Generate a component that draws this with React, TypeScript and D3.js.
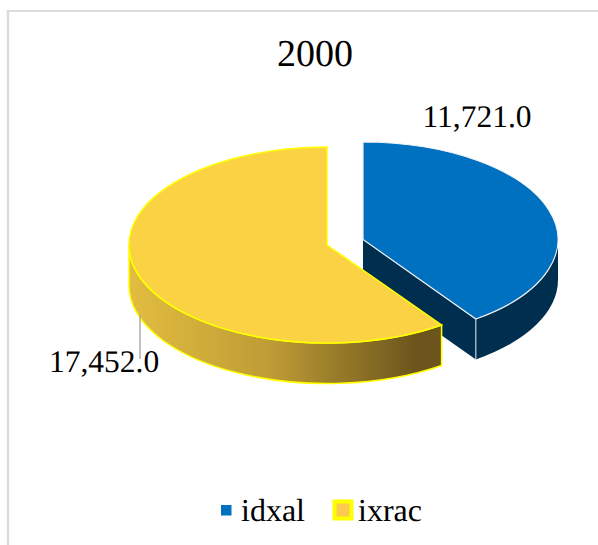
import React from 'react';
import * as d3 from 'd3';

const categories = ['idxal', 'ixrac'];
const values = [11721.0, 17452.0];
const labels = ['11,721.0', '17,452.0'];
const title = '2000';

const width = 598;
const height = 545;
const serif = '"Liberation Serif", "Times New Roman", serif';

// slice angles from d3.pie, clockwise from 12 o'clock
const slices = d3.pie<number>().sort(null)(values);

type Ell = { cx: number; cy: number; rx: number; ry: number };
const blueEll: Ell = { cx: 363, cy: 239.5, rx: 195, ry: 97.5 };
const yellowEll: Ell = { cx: 327, cy: 245, rx: 198, ry: 98 };
const depth = 40.5;

const pt = (e: Ell, a: number, dy = 0): [number, number] => [
  e.cx + e.rx * Math.sin(a),
  e.cy - e.ry * Math.cos(a) + dy,
];

// big flag for an svg arc going clockwise from a0 to a1
const arcTo = (e: Ell, a0: number, a1: number, dy = 0) => {
  const [x, y] = pt(e, a1, dy);
  return `A${e.rx},${e.ry} 0 ${a1 - a0 > Math.PI ? 1 : 0} 1 ${x},${y}`;
};
const arcBack = (e: Ell, a0: number, a1: number, dy = 0) => {
  const [x, y] = pt(e, a0, dy);
  return `A${e.rx},${e.ry} 0 ${a1 - a0 > Math.PI ? 1 : 0} 0 ${x},${y}`;
};

const topPath = (e: Ell, a0: number, a1: number) => {
  const [sx, sy] = pt(e, a0);
  return `M${e.cx},${e.cy}L${sx},${sy}${arcTo(e, a0, a1)}Z`;
};

// outer rim between two angles
const wallPath = (e: Ell, a0: number, a1: number) => {
  const [sx, sy] = pt(e, a0);
  const [bx, by] = pt(e, a1, depth);
  return `M${sx},${sy}${arcTo(e, a0, a1)}L${bx},${by}${arcBack(e, a0, a1, depth)}Z`;
};

// flat cut face from the centre out to the slice edge
const cutPath = (e: Ell, a: number) => {
  const [x, y] = pt(e, a);
  return `M${e.cx},${e.cy}L${x},${y}L${x},${y + depth}L${e.cx},${e.cy + depth}Z`;
};

export default function App() {
  const blue = slices[0];
  const yellow = slices[1];
  const [blueTipX, blueTipY] = pt(blueEll, blue.endAngle);
  const [yTipX] = pt(yellowEll, yellow.startAngle);

  return (
    <svg
      width={width}
      height={height}
      style={{ position: 'absolute', left: 0, top: 0 }}
      fontFamily={serif}
      textRendering="geometricPrecision"
    >
      <defs>
        <linearGradient id="rim" gradientUnits="userSpaceOnUse" x1={yellowEll.cx - yellowEll.rx} x2={yTipX} y1={0} y2={0}>
          <stop offset="0" stopColor="#e2bd40" />
          <stop offset="0.45" stopColor="#bf9c35" />
          <stop offset="0.92" stopColor="#6b551c" />
          <stop offset="1" stopColor="#6b551c" />
        </linearGradient>
      </defs>

      {/* chart frame, only top and left survive in the crop */}
      <line x1={8} y1={11} x2={width} y2={11} stroke="#dcdcdc" strokeWidth={2} />
      <line x1={8} y1={10} x2={8} y2={height} stroke="#dcdcdc" strokeWidth={2.5} />

      <text x={315} y={65.5} fontSize={38} textAnchor="middle" fill="#000">{title}</text>

      {/* blue slice */}
      <path d={cutPath(blueEll, blue.endAngle)} fill="#002e4f" />
      <path d={wallPath(blueEll, Math.PI / 2, blue.endAngle)} fill="#002e4f" />
      <line x1={blueTipX} y1={blueTipY} x2={blueTipX} y2={blueTipY + depth} stroke="#e6ecf2" strokeWidth={1} />
      <path d={topPath(blueEll, blue.startAngle, blue.endAngle)} fill="#0070c0" stroke="#f2f2f2" strokeWidth={1.2} />

      {/* yellow slice */}
      <path d={wallPath(yellowEll, yellow.startAngle, (3 * Math.PI) / 2)} fill="url(#rim)" stroke="#ffff00" strokeWidth={1.5} />
      <path d={topPath(yellowEll, yellow.startAngle, yellow.endAngle)} fill="#fad244" stroke="#ffff00" strokeWidth={1.5} />

      {/* data labels */}
      <text x={477} y={127} fontSize={31.5} textAnchor="middle" fill="#000">{labels[0]}</text>
      <text x={104} y={371.5} fontSize={31.5} textAnchor="middle" fill="#000">{labels[1]}</text>
      <line x1={140} y1={315} x2={140} y2={359} stroke="#a6a6a6" strokeWidth={1.4} />

      {/* legend */}
      <rect x={221} y={505} width={10.5} height={10.5} fill="#0070c0" />
      <text x={241} y={521} fontSize={32} fill="#000">{categories[0]}</text>
      <rect x={334.5} y={501.5} width={17} height={17} fill="#fcca4e" stroke="#ffff00" strokeWidth={4} />
      <text x={358} y={521} fontSize={32} fill="#000">{categories[1]}</text>
    </svg>
  );
}
